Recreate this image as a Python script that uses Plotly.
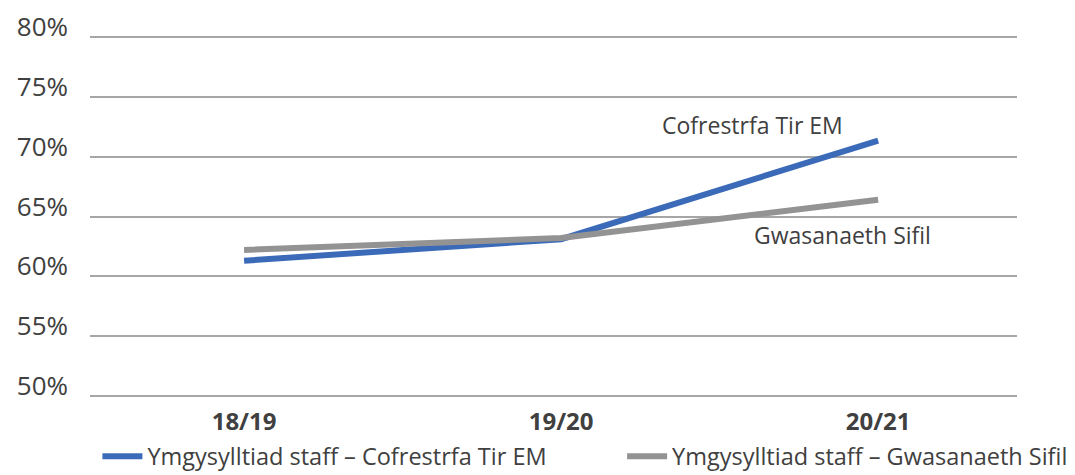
import plotly.graph_objects as go

categories = ["18/19", "19/20", "20/21"]
land_registry = [61.3, 63.1, 71.35]
civil_service = [62.2, 63.2, 66.4]
series_names = ["Ymgysylltiad staff – Cofrestrfa Tir EM", "Ymgysylltiad staff – Gwasanaeth Sifil"]
end_labels = ["Cofrestrfa Tir EM", "Gwasanaeth Sifil"]
y_ticks = [50, 55, 60, 65, 70, 75, 80]

BLUE = "#3B6BB8"
GREY = "#939393"
TEXT = "#404040"
FONT = "Open Sans"

fig = go.Figure()
fig.add_trace(go.Scatter(x=categories, y=land_registry, mode="lines", name=series_names[0],
                         line=dict(color=BLUE, width=6), legend="legend"))
fig.add_trace(go.Scatter(x=categories, y=civil_service, mode="lines", name=series_names[1],
                         line=dict(color=GREY, width=6), legend="legend2"))

fig.add_annotation(x=categories[2], y=land_registry[2], text=end_labels[0], showarrow=False,
                   xanchor="right", yanchor="middle", xshift=-33, yshift=16,
                   font=dict(family=FONT, size=23, color=TEXT))
fig.add_annotation(x=categories[2], y=civil_service[2], text=end_labels[1], showarrow=False,
                   xanchor="left", yanchor="middle", xshift=-126, yshift=-35,
                   font=dict(family=FONT, size=23, color=TEXT))

legend_common = dict(orientation="h", xanchor="left", yanchor="top", y=-0.104,
                     font=dict(family=FONT, size=23.5, color=TEXT),
                     itemwidth=40, bgcolor="rgba(0,0,0,0)")

fig.update_layout(
    width=1075, height=475,
    margin=dict(l=82, r=66, t=28, b=86, autoexpand=False),
    plot_bgcolor="white", paper_bgcolor="white",
    font=dict(family=FONT, color=TEXT),
    showlegend=True,
    legend=dict(x=0.008, **legend_common),
    legend2=dict(x=0.574, **legend_common),
    xaxis=dict(type="category", range=[-0.486, 2.438], showgrid=False, zeroline=False,
               showline=False, ticks="", ticklabelstandoff=8,
               tickfont=dict(family=FONT, size=24, color=TEXT, weight="bold")),
    yaxis=dict(range=[49.9, 80.1], tickvals=y_ticks, ticktext=[f"{v}%" for v in y_ticks],
               showgrid=True, gridcolor="#A6A6A6", gridwidth=1.5, zeroline=False,
               showline=False, ticks="", ticklabelstandoff=21, ticklabelshift=-10,
               tickfont=dict(family=FONT, size=26, color=TEXT)),
)

fig.write_html("out.html")
